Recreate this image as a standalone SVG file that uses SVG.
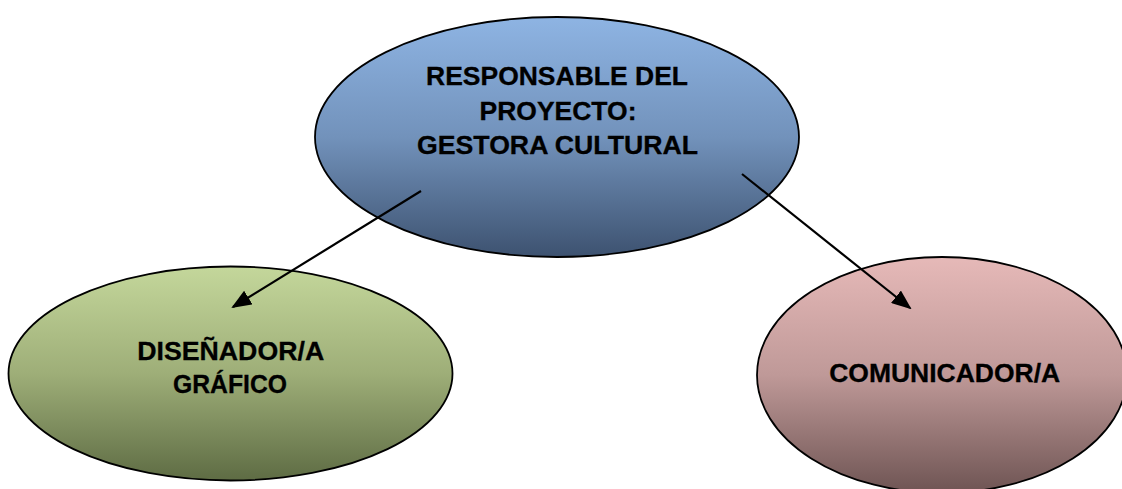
<svg xmlns="http://www.w3.org/2000/svg" width="1122" height="489" viewBox="0 0 1122 489">
<style>
.node{stroke:#000;stroke-width:1.8}
.lbl{font-family:"Liberation Sans",Arial,sans-serif;font-weight:bold;font-size:26px;fill:#000;text-anchor:middle;stroke:#000;stroke-width:0.3}
.edge{stroke:#000;stroke-width:2.2;fill:none;marker-end:url(#arr)}
</style>
<defs>
<linearGradient id="gBlue" x1="0" y1="0" x2="0" y2="1"><stop offset="0" stop-color="#8EB4E3"/><stop offset="0.5" stop-color="#7292BB"/><stop offset="1" stop-color="#3D5270"/></linearGradient>
<linearGradient id="gGreen" x1="0" y1="0" x2="0" y2="1"><stop offset="0" stop-color="#C4D79B"/><stop offset="0.5" stop-color="#9EAE78"/><stop offset="1" stop-color="#5E6C44"/></linearGradient>
<linearGradient id="gPink" x1="0" y1="0" x2="0" y2="1"><stop offset="0" stop-color="#E6B9B8"/><stop offset="0.5" stop-color="#BF9998"/><stop offset="1" stop-color="#6E5453"/></linearGradient>
<marker id="arr" markerWidth="20" markerHeight="16" refX="18" refY="8" orient="auto" markerUnits="userSpaceOnUse"><path d="M0,0 L20,8 L0,16 Z" fill="#000"/></marker>
</defs>
<g id="node-responsable">
<ellipse class="node" cx="557" cy="137" rx="242" ry="120" fill="url(#gBlue)"/>
<text class="lbl" x="557" y="85" textLength="262" lengthAdjust="spacingAndGlyphs">RESPONSABLE DEL</text>
<text class="lbl" x="558" y="119.5" textLength="157" lengthAdjust="spacingAndGlyphs">PROYECTO:</text>
<text class="lbl" x="557.5" y="154" textLength="281" lengthAdjust="spacingAndGlyphs">GESTORA CULTURAL</text>
</g>
<g id="node-disenador">
<ellipse class="node" cx="230.5" cy="373.5" rx="222" ry="107" fill="url(#gGreen)"/>
<text class="lbl" x="230.7" y="360" textLength="187" lengthAdjust="spacingAndGlyphs">DISEÑADOR/A</text>
<text class="lbl" x="230" y="393.3" textLength="114" lengthAdjust="spacingAndGlyphs">GRÁFICO</text>
</g>
<g id="node-comunicador">
<ellipse class="node" cx="942" cy="375" rx="185" ry="118" fill="url(#gPink)"/>
<text class="lbl" x="944.7" y="382.3" textLength="231" lengthAdjust="spacingAndGlyphs">COMUNICADOR/A</text>
</g>
<g id="connectors">
<line class="edge" x1="421" y1="191" x2="233" y2="307"/>
<line class="edge" x1="742" y1="174" x2="910" y2="308"/>
</g>
</svg>
